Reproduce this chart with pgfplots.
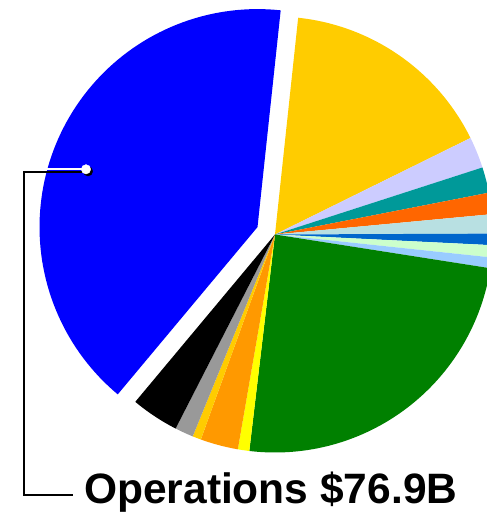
\documentclass[border=0pt]{standalone}
\usepackage{pgfplots}
\pgfplotsset{compat=1.18}
\usepackage{fontspec}
\setmainfont{Liberation Sans}
\definecolor{cOps}{HTML}{0000FF}
\definecolor{cYel}{HTML}{FFCC00}
\definecolor{cLav}{HTML}{CCCCFF}
\definecolor{cTeal}{HTML}{009999}
\definecolor{cOrR}{HTML}{FF6600}
\definecolor{cPow}{HTML}{B8E0E2}
\definecolor{cMid}{HTML}{0066CC}
\definecolor{cLgr}{HTML}{CCFFCC}
\definecolor{cSky}{HTML}{99CCFF}
\definecolor{cGrn}{HTML}{008000}
\definecolor{cBYel}{HTML}{FFFF00}
\definecolor{cOra}{HTML}{FF9900}
\definecolor{cGold}{HTML}{FFCC00}
\definecolor{cGray}{HTML}{999999}
\definecolor{cBlk}{HTML}{000000}
% pie geometry (axis units = pt)
\def\CX{275}\def\CY{282.5}\def\R{218}
\xdef\runangle{83.9}
\pgfmathsetmacro\total{30.3+4.4+3.6+3.0+2.7+1.6+1.7+1.5+46.2+1.6+5.3+1.2+2.6+6.7+76.9}
\xdef\total{\total}
\newcommand\slice[3]{% value, colour, explode offset
  \pgfmathsetmacro\sa{\runangle}\xdef\sa{\sa}%
  \pgfmathsetmacro\ea{\runangle-(#1/\total)*360}\xdef\ea{\ea}%
  \pgfmathsetmacro\md{(\sa+\ea)/2}\xdef\md{\md}%
  \pgfmathsetmacro\cx{\CX+#3*cos(\md)}\xdef\cx{\cx}%
  \pgfmathsetmacro\cy{\CY+#3*sin(\md)}\xdef\cy{\cy}%
  \edef\doslice{\noexpand\addplot[fill=#2, draw=none, domain=\ea:\sa, samples=90]
    ({\cx+\R*cos(x)},{\cy+\R*sin(x)}) -- (axis cs:\cx,\cy) -- cycle;}%
  \doslice
  \xdef\runangle{\ea}%
}
\begin{document}
\begin{tikzpicture}
\begin{axis}[scale only axis, width=487pt, height=517pt,
  xmin=0, xmax=487, ymin=0, ymax=517, hide axis, clip=true]
\slice{30.3}{cYel}{0}
\slice{4.4}{cLav}{0}
\slice{3.6}{cTeal}{0}
\slice{3.0}{cOrR}{0}
\slice{2.7}{cPow}{0}
\slice{1.6}{cMid}{0}
\slice{1.7}{cLgr}{0}
\slice{1.5}{cSky}{0}
\slice{46.2}{cGrn}{0}
\slice{1.6}{cBYel}{0}
\slice{5.3}{cOra}{0}
\slice{1.2}{cGold}{0}
\slice{2.6}{cGray}{0}
\slice{6.7}{cBlk}{0}
\slice{76.9}{cOps}{19}
% callout
\addplot[black, line width=2.5pt, no marks] coordinates {(88,345.2) (24,345.2) (24,22) (73,22)};
\addplot[white, line width=2pt, no marks] coordinates {(86,347.5) (25.5,347.5)};
\addplot[only marks, mark=*, mark size=4.7pt, black, mark options={draw=none}] coordinates {(88,345.7)};
\addplot[only marks, mark=*, mark size=4.7pt, white, mark options={draw=none}] coordinates {(86,347.7)};
\node[anchor=base west, inner sep=0pt, font=\fontsize{42.5}{50}\selectfont\bfseries] at (axis cs:84,14) {Operations \$76.9B};
\end{axis}
\pgfresetboundingbox
\useasboundingbox (current axis.south west) rectangle (current axis.north east);
\end{tikzpicture}
\end{document}
